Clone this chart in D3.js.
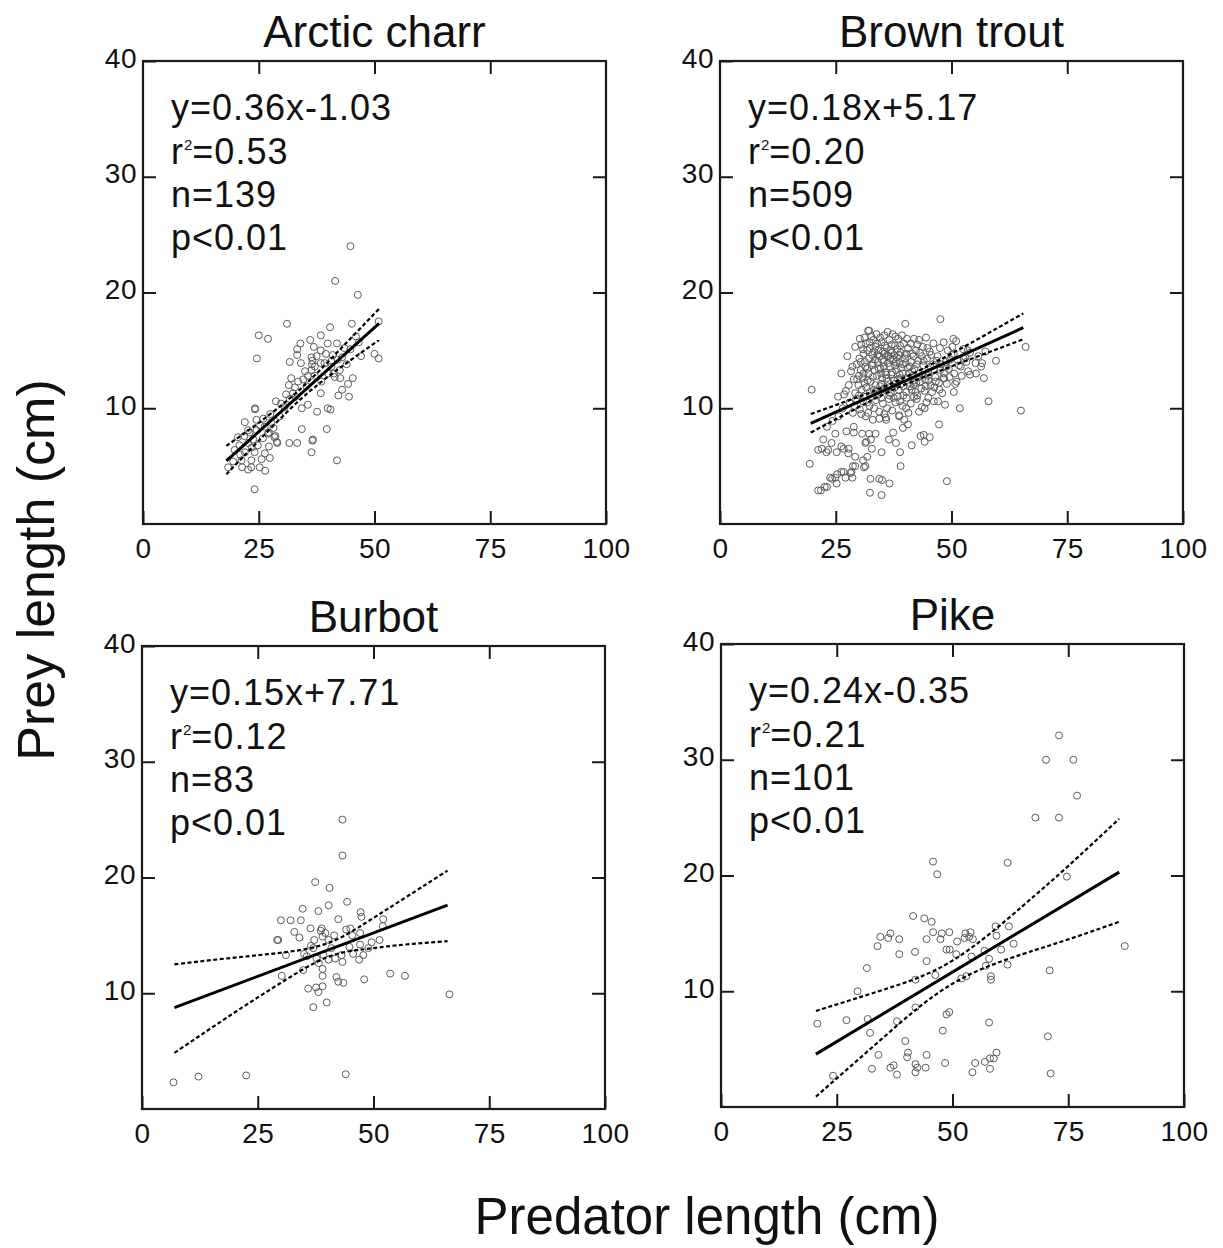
<!DOCTYPE html>
<html>
<head>
<meta charset="utf-8">
<style>
  body{margin:0;background:#fff}
  svg text{font-family:"Liberation Sans",Arial,sans-serif;fill:#111}
  .frame{fill:none;stroke:#1a1a1a;stroke-width:2.2px}
  .axis .tick line{stroke:#1a1a1a;stroke-width:2px}
  .axis text{font-size:28px;letter-spacing:0.5px}
  .pt{fill:none;stroke:#5c5c5c;stroke-width:1px}
  .fit{fill:none;stroke:#000;stroke-width:3px}
  .ci{fill:none;stroke:#000;stroke-width:2.2px;stroke-dasharray:4,2.5}
  .stat{font-size:36px;letter-spacing:1px}
  .title{font-size:44px}
  .label{font-size:51px}
</style>
</head>
<body>
<div id="chart"></div>
<script src="https://d3js.org/d3.v7.min.js"></script>
<script>
var species   = ['Arctic charr', 'Brown trout', 'Burbot', 'Pike'];
var equations = ['y=0.36x-1.03', 'y=0.18x+5.17', 'y=0.15x+7.71', 'y=0.24x-0.35'];
var rSquared  = ['=0.53', '=0.20', '=0.12', '=0.21'];
var nObs      = ['n=139', 'n=509', 'n=83', 'n=101'];
var pValues   = ['p<0.01', 'p<0.01', 'p<0.01', 'p<0.01'];
var xTicks    = [0, 25, 50, 75, 100];
var yTicks    = [10, 20, 30, 40];

// fitted line end points [x, y]
var fitEnds = [
  [[18, 5.45], [51, 17.33]],
  [[19.6, 8.70], [65.5, 16.96]],
  [[7, 8.76], [66, 17.61]],
  [[20.5, 4.57], [86, 20.29]]
];

// confidence bands [x, lower, upper]
var ciBands = [
  [[18, 4.3, 6.75], [25, 7.2, 8.74], [33.6, 10.62, 11.52], [42, 13.33, 14.85], [51, 15.9, 18.6]],
  [[19.6, 7.9, 9.5], [30, 10.1, 11.0], [38.3, 11.76, 12.36], [50, 13.62, 14.72], [65.5, 15.96, 18.2]],
  [[7, 4.85, 12.5], [20, 8.34, 13.08], [30, 10.9, 13.5], [40, 13.11, 14.31], [48, 13.8, 16.0], [55, 14.14, 17.78], [66, 14.5, 20.6]],
  [[20.5, 0.9, 8.3], [35, 5.98, 10.12], [50, 10.65, 12.65], [65, 13.19, 17.31], [75, 14.48, 20.82], [86, 16.0, 24.9]]
];

var charrPts = [
  [44.8,24.0],[41.5,21.0],[46.4,19.8],[31.1,17.3],[25.0,16.3],[27.0,16.0],[24.6,14.3],[40.4,17.0],[45.1,17.3],[50.9,17.5],
  [34.0,15.6],[36.1,15.9],[38.4,16.3],[36.9,15.3],[33.3,15.1],[39.9,15.6],[41.9,15.6],[33.3,14.6],[31.7,14.0],[34.1,13.9],
  [36.4,14.4],[36.6,14.1],[38.4,15.0],[39.2,13.9],[44.8,15.1],[47.1,14.5],[50.0,14.7],[50.9,14.3],[46.6,15.7],[43.0,14.4],
  [40.7,13.6],[41.2,13.0],[42.5,13.3],[37.1,12.8],[35.6,12.8],[38.5,12.3],[45.3,12.6],[44.3,12.1],[43.0,11.6],[42.2,11.1],
  [44.5,11.0],[38.4,11.3],[35.6,10.3],[34.3,10.0],[39.9,10.0],[40.5,9.9],[37.6,9.7],[33.5,12.3],[28.7,10.6],[24.2,10.0],
  [32.4,11.3],[34.3,8.2],[39.7,8.2],[36.6,7.2],[36.4,6.2],[31.6,7.0],[33.3,7.0],[28.9,7.1],[41.9,5.5],[24.1,3.0],
  [22.0,8.8],[24.5,9.0],[22.7,8.1],[24.5,8.1],[27.0,7.8],[28.4,7.5],[25.9,7.4],[20.5,7.5],[22.7,7.0],[24.8,6.8],
  [27.2,6.7],[19.8,6.4],[22.0,6.2],[24.1,6.2],[26.3,6.1],[21.3,5.5],[23.4,5.5],[25.6,5.6],[27.4,5.7],[18.4,4.9],
  [21.4,4.9],[23.4,4.9],[25.2,4.9],[26.4,4.6],[19.5,5.4],[22.7,4.7],[32.8,11.8],[35.3,11.9],[31.7,10.8],[30.6,10.1],
  [29.5,9.3],[27.7,8.8],[26.3,8.4],[36.5,13.8],[37.1,13.6],[38.4,13.9],[41.4,12.7],[42.6,12.6],[40.7,14.1],[36.4,13.3],
  [24.2,9.9],[27.2,7.9],[28.6,7.6],[29.0,7.0],[36.7,7.3],
  [20.8,6.8],[21.9,7.6],[23.0,7.9],[23.8,7.3],[25.3,8.5],[26.0,9.1],[27.5,9.5],[28.2,8.3],[29.8,10.4],[30.9,11.2],
  [31.5,12.0],[32.0,12.6],[33.0,11.0],[34.6,12.5],[35.0,13.2],[37.5,14.5],[39.5,14.7],[40.0,13.0],[41.0,14.6],[42.0,14.2],
  [43.5,15.2],[44.0,13.8],[46.0,16.2],[21.0,6.0],[23.5,6.6]
];

var troutPts = [
  [40.0,17.3],[47.6,17.7],[66.0,15.3],[65.0,9.8],[19.8,11.6],[58.0,10.6],[59.6,14.1],[57.0,12.6],[56.4,13.6],[55.3,13.0],
  [57.3,14.9],[54.0,12.9],[51.8,10.0],[48.6,10.3],[51.1,12.3],[50.5,11.4],[48.4,12.6],[50.4,16.0],[47.1,10.6],[44.2,10.0],
  [40.2,10.0],[29.2,15.3],[27.5,14.5],[28.6,13.6],[26.2,13.0],[32.2,16.7],
  [47.3,8.6],[45.3,7.5],[44.2,7.1],[44.0,7.7],[43.3,7.6],[41.4,6.8],[40.6,8.6],[39.5,8.3],[38.9,6.2],[38.0,7.0],
  [37.4,7.9],[36.5,7.3],[38.7,9.3],[35.9,9.0],[34.4,9.1],[34.9,6.2],[32.8,6.5],[31.4,7.0],[31.6,7.1],[32.6,7.3],
  [33.6,7.8],[32.2,7.8],[30.7,7.8],[28.9,7.9],[28.9,8.4],[27.3,8.0],[27.8,6.5],[26.2,6.7],[25.2,6.2],[23.0,6.2],
  [21.2,6.4],[22.3,7.3],[24.1,7.0],[24.9,7.8],[23.1,8.4],[22.0,6.5],[23.4,6.4],[26.7,6.5],[29.2,5.8],[31.8,5.8],
  [27.7,6.1],[19.4,5.2],[49.0,3.7],[39.0,5.0],[35.0,3.8],[32.5,3.9],[32.4,2.7],[34.9,2.5],[36.6,3.5],[34.4,3.9],
  [21.2,2.9],[22.6,3.2],[23.8,4.0],[24.9,4.0],[25.2,3.5],[27.1,4.0],[26.2,4.5],[28.4,4.5],[28.6,4.0],[28.7,5.0],
  [31.1,4.9],[30.9,5.5],[29.2,5.0],[31.4,5.0],[28.2,4.4],[26.7,4.5],[25.3,4.3],[24.2,3.9],[23.1,3.2],[21.8,2.9],
  [30.5,15.5],[31.2,16.1],[32.0,16.7],[32.4,15.2],[33.1,15.9],[33.8,16.4],[34.2,15.0],[34.9,15.7],[35.5,16.3],[36.0,15.2],
  [36.6,15.9],[37.3,16.4],[37.8,15.4],[38.5,16.0],[31.0,14.7],[31.8,15.0],[32.9,14.6],[33.6,15.3],[34.5,14.5],[35.2,14.9],
  [36.1,14.6],[36.9,15.0],[37.6,14.6],[38.3,15.1],[39.0,14.8],[39.7,15.6],[40.4,16.0],[41.2,15.6],[41.9,16.0],[42.6,15.5],
  [28.3,13.2],[28.9,12.5],[29.5,13.8],[29.9,12.0],[30.4,13.3],[30.8,12.6],[31.3,14.0],[31.6,11.8],[32.1,13.0],[32.5,12.3],
  [32.8,13.7],[33.2,11.6],[33.5,14.2],[33.9,12.8],[34.3,13.4],[34.6,11.9],[35.0,12.6],[35.3,14.0],[35.7,13.1],[36.0,11.5],
  [36.3,12.3],[36.7,13.6],[37.0,12.9],[37.4,14.2],[37.7,11.8],[38.1,13.3],[38.4,12.5],[38.8,13.9],[39.2,12.1],[39.5,13.0],
  [39.9,14.3],[40.2,12.6],[40.6,13.5],[41.0,11.9],[41.3,14.0],[41.7,12.8],[42.0,13.4],[42.4,12.2],[42.8,14.1],[43.1,13.0],
  [43.5,11.7],[43.9,13.7],[44.3,12.5],[44.7,14.3],[45.0,13.1],[45.5,12.0],[46.0,13.8],[46.5,12.7],[47.0,14.5],[47.6,13.3],
  [48.2,12.6],[48.8,14.0],[49.4,13.4],[50.0,14.6],[50.6,13.0],[51.3,14.2],[52.0,13.6],[53.0,14.4],[54.0,14.8],[55.2,13.9],
  [29.2,11.3],[30.1,14.3],[31.0,13.0],[31.9,12.4],[32.6,11.0],[33.4,13.3],[34.0,14.6],[34.8,12.1],[35.4,13.6],[35.9,12.9],
  [36.4,14.5],[36.9,11.3],[37.5,12.4],[38.0,14.0],[38.6,11.6],[39.1,13.5],[39.6,11.1],[40.1,13.9],[40.8,12.2],[41.5,13.2],
  [42.2,11.4],[42.9,12.7],[43.6,14.5],[44.2,11.5],[44.9,12.8],[45.6,14.6],[46.3,11.8],[47.3,12.2],[48.0,11.3],[49.0,12.1],
  [50.2,15.3],[51.0,15.8],[52.5,15.1],[53.6,13.2],
  [28.0,10.5],[28.7,9.6],[29.4,10.8],[30.2,9.9],[30.9,10.6],[31.5,9.3],[32.3,10.2],[33.0,9.0],[33.7,10.7],[34.4,9.7],
  [35.2,10.4],[35.8,9.2],[36.5,10.8],[37.2,9.8],[37.9,10.5],[38.7,9.4],[39.4,10.2],[40.3,10.9],[41.2,10.4],[42.5,10.8],
  [43.6,10.1],[45.0,10.9],[46.2,10.6],[27.2,11.5],[26.5,10.0],[25.6,9.3],[24.3,8.9],[27.8,12.0],[26.8,11.2],[25.5,11.0],
  [30.2,16.0],[30.9,15.1],[31.5,15.6],[32.2,14.3],[32.7,16.2],[33.3,14.9],[33.9,15.6],[34.6,16.1],[35.0,14.2],[35.6,15.4],
  [36.2,16.6],[36.8,14.3],[37.1,15.5],[37.9,16.2],[38.2,14.4],[38.9,15.4],[39.3,16.3],[39.9,14.6],[40.6,15.2],[41.5,14.7],
  [30.4,14.0],[31.4,13.6],[32.3,15.7],[33.0,13.9],[34.1,14.0],[34.7,13.4],[35.5,14.7],[36.3,13.9],[37.0,14.8],[37.8,13.7],
  [38.7,14.6],[39.5,13.8],[40.3,14.7],[41.0,13.6],[41.8,14.5],[42.5,13.8],[43.2,14.8],[44.0,14.1],[44.8,15.2],[45.5,13.6],
  [30.0,12.8],[30.6,11.6],[31.2,12.2],[31.8,13.4],[32.4,11.4],[33.0,12.7],[33.6,12.0],[34.2,11.2],[34.8,13.0],[35.4,11.7],
  [36.0,12.6],[36.6,11.1],[37.2,13.1],[37.8,12.1],[38.4,11.0],[39.0,12.6],[39.6,11.9],[40.2,11.4],[40.8,13.0],[41.4,11.6],
  [42.0,12.4],[42.6,11.1],[43.2,12.3],[43.8,12.9],[44.4,11.9],[45.0,12.4],[45.8,11.4],[46.6,12.3],[47.4,11.6],[48.4,13.0],
  [49.6,12.7],[50.8,12.1],[52.2,12.8],[53.2,14.0],[29.6,12.5],[31.0,11.0],[33.8,11.5],[36.2,11.9],[38.8,12.9],[41.8,12.0],
  [29.0,10.2],[30.5,9.5],[31.8,10.5],[33.3,10.0],[34.8,10.9],[36.1,10.0],[37.5,10.9],[38.9,10.6],[40.7,9.6],[41.9,11.0],
  [43.0,9.7],[44.6,10.5],[30.0,11.1],[32.0,9.6],[35.5,9.5],[39.8,9.0],
  [42.3,15.0],[43.0,15.9],[43.8,15.3],[44.5,16.1],[45.3,14.9],[46.1,15.6],[46.8,14.1],[47.5,15.2],[48.3,15.7],[48.9,13.6],
  [49.7,14.2],[50.5,14.7],[51.6,13.7],[52.6,14.3],[53.5,15.0],[55.8,14.5],[56.6,13.9],[49.2,15.0],[47.8,13.8],[46.3,13.3]
];

var burbotPts = [
  [43.3,25.0],[43.3,21.9],[37.4,19.6],[40.5,19.1],[44.3,17.9],[34.7,17.3],[38.1,17.1],[40.3,17.6],[30.0,16.3],[32.1,16.3],
  [34.3,16.3],[38.8,15.6],[36.4,15.6],[42.4,16.4],[47.2,17.0],[47.4,16.6],[52.1,16.4],[52.0,15.8],[32.9,15.3],[29.2,14.6],
  [29.4,14.6],[34.0,14.8],[37.2,14.6],[39.0,14.9],[40.3,14.6],[44.1,15.5],[45.4,15.0],[47.1,15.2],[48.9,13.9],[47.1,14.2],
  [51.3,14.6],[31.1,13.3],[35.0,13.4],[37.0,13.9],[39.2,13.3],[40.9,13.9],[43.1,13.3],[43.3,12.7],[41.7,13.0],[40.3,12.9],
  [46.9,12.9],[47.8,13.3],[37.7,13.0],[35.6,13.2],[30.2,11.5],[34.8,12.0],[39.0,12.1],[39.0,11.5],[42.0,11.4],[42.4,11.0],
  [43.5,10.9],[48.0,11.2],[53.6,11.7],[56.8,11.5],[66.4,9.9],[35.9,10.4],[37.6,10.5],[39.0,10.6],[38.1,10.1],[37.0,8.8],
  [39.9,9.2],[6.8,2.3],[12.2,2.8],[22.5,2.9],[44.0,3.0],[38.6,15.4],[39.6,15.2],[45.0,15.6],[44.8,14.0],[41.5,15.0],
  [36.5,14.1],[38.2,12.6],[45.6,13.4],[49.6,14.4]
];

var pikePts = [
  [73.0,32.1],[70.2,30.0],[76.1,30.0],[76.9,26.9],[67.9,25.0],[73.0,25.0],[45.8,21.2],[46.7,20.1],[61.9,21.1],[74.7,19.9],
  [87.2,13.9],[71.0,11.8],[70.6,6.1],[71.2,2.9],[41.5,16.5],[43.9,16.3],[45.5,16.0],[34.4,14.7],[36.6,15.0],[36.1,14.6],
  [38.5,14.5],[33.8,13.9],[38.5,13.2],[41.9,13.4],[44.4,14.5],[45.8,15.1],[47.4,14.5],[47.7,15.0],[49.3,15.1],[51.0,14.3],
  [52.8,15.0],[53.9,15.1],[53.6,14.7],[54.4,14.5],[48.7,13.6],[49.4,13.6],[50.8,13.2],[54.1,13.0],[59.3,15.6],[62.2,15.6],
  [59.5,14.8],[60.5,13.6],[63.2,14.1],[61.9,12.3],[57.9,12.8],[57.2,12.2],[58.3,11.3],[58.3,11.0],[53.0,11.3],[51.9,11.1],
  [46.3,11.4],[42.0,11.0],[44.4,12.6],[31.5,12.0],[29.5,10.0],[42.0,8.6],[48.7,8.0],[49.3,8.2],[20.8,7.2],[27.1,7.5],
  [31.7,7.6],[32.2,6.4],[38.0,7.4],[47.9,6.6],[39.8,5.7],[57.9,7.3],[34.0,4.5],[40.4,4.7],[40.2,4.3],[44.4,4.5],
  [32.6,3.3],[36.6,3.4],[37.3,3.6],[38.0,2.8],[42.0,3.7],[42.4,3.4],[42.0,3.0],[44.2,3.4],[48.4,3.8],[54.9,3.8],
  [54.3,3.0],[57.0,3.9],[58.1,4.2],[58.9,4.2],[59.5,4.7],[58.1,3.3],[24.2,2.7],[52.6,14.6],[56.9,13.5]
];

var panelPts = [charrPts, troutPts, burbotPts, pikePts];

var W = 463, H = 463;
var origins = [[143, 61], [720, 61], [142, 646], [721, 644]];

var svg = d3.select('#chart').append('svg')
  .attr('width', 1223)
  .attr('height', 1248);

species.forEach(function (name, i) {
  var g = svg.append('g')
    .attr('transform', 'translate(' + origins[i][0] + ',' + origins[i][1] + ')');

  var x = d3.scaleLinear().domain([0, 100]).range([0, W]);
  var y = d3.scaleLinear().domain([0, 40]).range([H, 0]);

  // axes, ticks pointing inward
  g.append('g')
    .attr('class', 'axis')
    .attr('transform', 'translate(0,' + H + ')')
    .call(d3.axisBottom(x).tickValues(xTicks).tickSizeInner(-13).tickSizeOuter(0).tickPadding(14))
    .call(function (a) { a.select('.domain').remove(); });

  g.append('g')
    .attr('class', 'axis')
    .call(d3.axisTop(x).tickValues([25, 50, 75]).tickSizeInner(-13).tickSizeOuter(0).tickFormat(''))
    .call(function (a) { a.select('.domain').remove(); });

  g.append('g')
    .attr('class', 'axis')
    .call(d3.axisLeft(y).tickValues(yTicks).tickSizeInner(-13).tickSizeOuter(0).tickPadding(6))
    .call(function (a) {
      a.select('.domain').remove();
      a.selectAll('text').attr('dy', '0.22em');
    });

  g.append('g')
    .attr('class', 'axis')
    .attr('transform', 'translate(' + W + ',0)')
    .call(d3.axisRight(y).tickValues([10, 20, 30]).tickSizeInner(-13).tickSizeOuter(0).tickFormat(''))
    .call(function (a) { a.select('.domain').remove(); });

  g.append('rect')
    .attr('class', 'frame')
    .attr('width', W)
    .attr('height', H);

  // points
  g.append('g').selectAll('circle')
    .data(panelPts[i])
    .join('circle')
    .attr('class', 'pt')
    .attr('cx', function (d) { return x(d[0]); })
    .attr('cy', function (d) { return y(d[1]); })
    .attr('r', 3.5);

  // fit and confidence band
  var line = d3.line()
    .x(function (d) { return x(d[0]); })
    .y(function (d) { return y(d[1]); });

  var band = d3.line()
    .curve(d3.curveNatural)
    .x(function (d) { return x(d[0]); })
    .y(function (d) { return y(d[1]); });

  g.append('path')
    .attr('class', 'ci')
    .attr('d', band(ciBands[i].map(function (d) { return [d[0], d[1]]; })));
  g.append('path')
    .attr('class', 'ci')
    .attr('d', band(ciBands[i].map(function (d) { return [d[0], d[2]]; })));
  g.append('path')
    .attr('class', 'fit')
    .attr('d', line(fitEnds[i]));

  // title
  g.append('text')
    .attr('class', 'title')
    .attr('x', W / 2)
    .attr('y', -14)
    .attr('text-anchor', 'middle')
    .text(name);

  // statistics
  g.append('text').attr('class', 'stat').attr('x', 28).attr('y', 59).text(equations[i]);
  var r = g.append('text').attr('class', 'stat').attr('x', 28).attr('y', 103);
  r.append('tspan').text('r');
  r.append('tspan').attr('dy', -14).style('font-size', '15px').style('letter-spacing', '0px').text('2');
  r.append('tspan').attr('dy', 14).text(rSquared[i]);
  g.append('text').attr('class', 'stat').attr('x', 28).attr('y', 146).text(nObs[i]);
  g.append('text').attr('class', 'stat').attr('x', 28).attr('y', 189).text(pValues[i]);
});

svg.append('text')
  .attr('class', 'label')
  .attr('x', 707)
  .attr('y', 1234)
  .attr('text-anchor', 'middle')
  .text('Predator length (cm)');

svg.append('text')
  .attr('class', 'label')
  .attr('transform', 'translate(54,570) rotate(-90)')
  .attr('text-anchor', 'middle')
  .style('font-size', '52px')
  .text('Prey length (cm)');
</script>
</body>
</html>
